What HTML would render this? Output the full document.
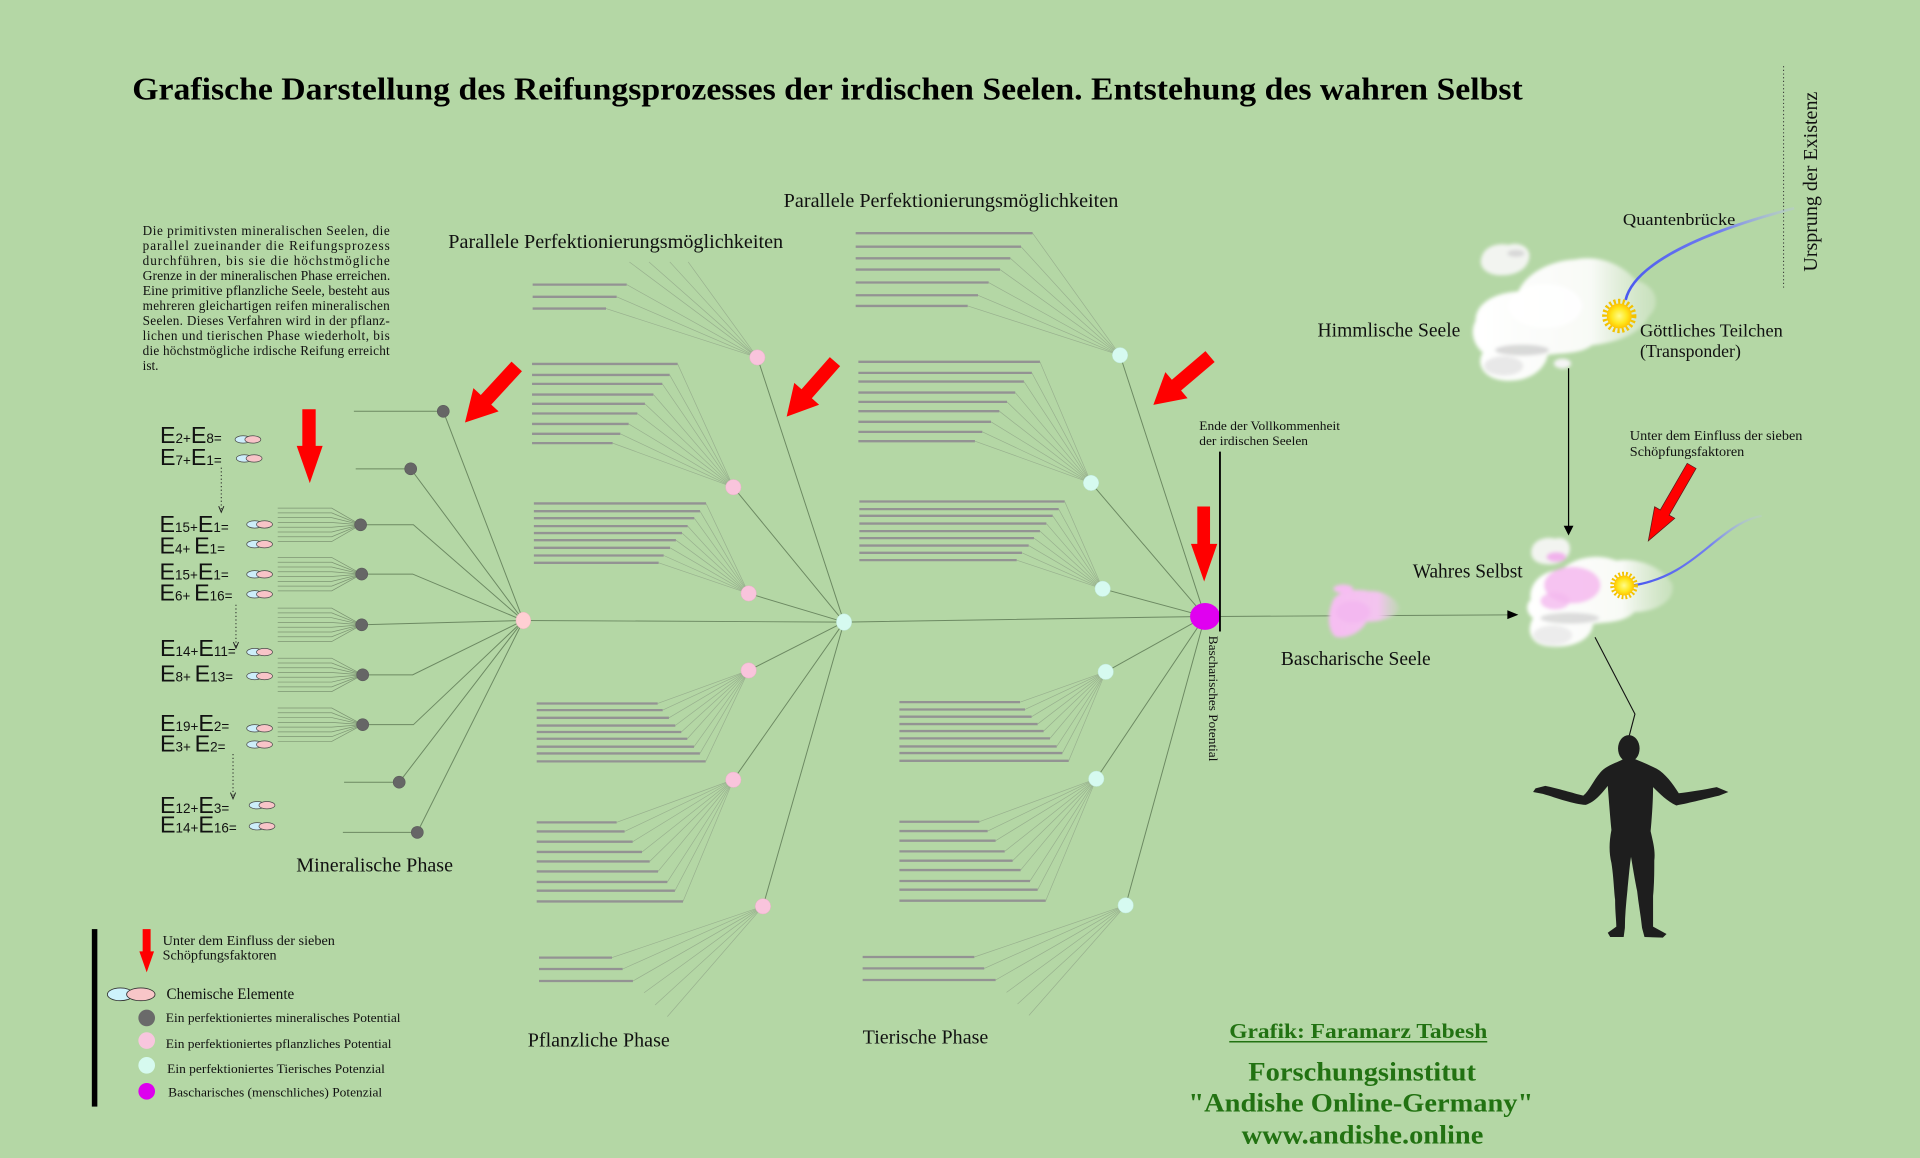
<!DOCTYPE html>
<html>
<head>
<meta charset="utf-8">
<style>
  html,body{margin:0;padding:0;background:#b4d7a5;}
  svg{display:block;}
  .serif{font-family:"Liberation Serif","DejaVu Serif",serif;}
  .sans{font-family:"Liberation Sans","DejaVu Sans",sans-serif;}
</style>
</head>
<body>
<svg width="1920" height="1158" viewBox="0 0 1568 946" preserveAspectRatio="none" xmlns="http://www.w3.org/2000/svg">
<defs>
  <filter id="blur1" x="-20%" y="-20%" width="140%" height="140%"><feGaussianBlur stdDeviation="1.6"/></filter>
  <radialGradient id="sunG" cx="50%" cy="50%" r="50%">
    <stop offset="0" stop-color="#fffb8a"/>
    <stop offset="0.6" stop-color="#ffe820"/>
    <stop offset="1" stop-color="#ffc400"/>
  </radialGradient>
  <linearGradient id="blue1" gradientUnits="userSpaceOnUse" x1="1328" y1="245" x2="1465" y2="170">
    <stop offset="0" stop-color="#4a58f0"/>
    <stop offset="0.6" stop-color="#6f7cf0"/>
    <stop offset="1" stop-color="#b9c2ee" stop-opacity="0.3"/>
  </linearGradient>
  <linearGradient id="blue2" gradientUnits="userSpaceOnUse" x1="1332" y1="478" x2="1439" y2="421">
    <stop offset="0" stop-color="#4a58f0"/>
    <stop offset="0.6" stop-color="#7380f0"/>
    <stop offset="1" stop-color="#c0c8ee" stop-opacity="0.2"/>
  </linearGradient>
  <linearGradient id="pinkfade" x1="0" y1="0" x2="1" y2="0">
    <stop offset="0" stop-color="#f6bdf2"/>
    <stop offset="0.7" stop-color="#f3c4ef"/>
    <stop offset="1" stop-color="#e8d0e6" stop-opacity="0.2"/>
  </linearGradient>
  <linearGradient id="cloudfade" x1="0" y1="0" x2="1" y2="0">
    <stop offset="0" stop-color="#ffffff"/>
    <stop offset="0.65" stop-color="#f8faf6"/>
    <stop offset="1" stop-color="#e4eedd" stop-opacity="0.4"/>
  </linearGradient>
</defs>

<rect x="0" y="0" width="1568" height="946" fill="#b4d7a5"/>

<!-- Title -->
<text class="serif" x="108" y="81.1" font-size="26" font-weight="bold" fill="#000" textLength="1135.6" lengthAdjust="spacingAndGlyphs">Grafische Darstellung des Reifungsprozesses der irdischen Seelen. Entstehung des wahren Selbst</text>

<!-- Description block -->
<g class="serif" font-size="10.8" fill="#111">
  <text x="116.5" y="192" textLength="201.8" lengthAdjust="spacing">Die primitivsten mineralischen Seelen, die</text>
  <text x="116.5" y="204.25" textLength="201.8" lengthAdjust="spacing">parallel zueinander die Reifungsprozess</text>
  <text x="116.5" y="216.5" textLength="201.8" lengthAdjust="spacing">durchführen, bis sie die höchstmögliche</text>
  <text x="116.5" y="228.75" textLength="202.2" lengthAdjust="spacingAndGlyphs">Grenze in der mineralischen Phase erreichen.</text>
  <text x="116.5" y="241" textLength="201.8" lengthAdjust="spacingAndGlyphs">Eine primitive pflanzliche Seele, besteht aus</text>
  <text x="116.5" y="253.25" textLength="201.8" lengthAdjust="spacing">mehreren gleichartigen reifen mineralischen</text>
  <text x="116.5" y="265.5" textLength="201.8" lengthAdjust="spacing">Seelen. Dieses Verfahren wird in der pflanz-</text>
  <text x="116.5" y="277.75" textLength="201.8" lengthAdjust="spacing">lichen und tierischen Phase wiederholt, bis</text>
  <text x="116.5" y="290" textLength="201.8" lengthAdjust="spacing">die höchstmögliche irdische Reifung erreicht</text>
  <text x="116.5" y="302.25">ist.</text>
</g>

<!-- Parallel labels -->
<text class="serif" x="366.1" y="202.8" font-size="16" fill="#111" textLength="273.5" lengthAdjust="spacingAndGlyphs">Parallele Perfektionierungsmöglichkeiten</text>
<text class="serif" x="640" y="169.3" font-size="16" fill="#111" textLength="273.3" lengthAdjust="spacingAndGlyphs">Parallele Perfektionierungsmöglichkeiten</text>

<!-- ============ MINERAL PHASE ============ -->
<g fill="none" stroke="#7d9573" stroke-width="0.6">
  <path d="M226.8 415.1H270.9L294.5 428.7M226.8 419H270.9L294.5 428.7M226.8 422.9H270.9L294.5 428.7M226.8 426.8H270.9L294.5 428.7M226.8 430.7H270.9L294.5 428.7M226.8 434.6H270.9L294.5 428.7M226.8 438.5H270.9L294.5 428.7M226.8 442.4H270.9L294.5 428.7"/>
  <path d="M226.8 455.4H270.9L295.4 469M226.8 459.3H270.9L295.4 469M226.8 463.2H270.9L295.4 469M226.8 467.1H270.9L295.4 469M226.8 471H270.9L295.4 469M226.8 474.9H270.9L295.4 469M226.8 478.8H270.9L295.4 469M226.8 482.7H270.9L295.4 469"/>
  <path d="M226.8 496.8H270.9L295.4 510.4M226.8 500.7H270.9L295.4 510.4M226.8 504.6H270.9L295.4 510.4M226.8 508.5H270.9L295.4 510.4M226.8 512.4H270.9L295.4 510.4M226.8 516.3H270.9L295.4 510.4M226.8 520.2H270.9L295.4 510.4M226.8 524.1H270.9L295.4 510.4"/>
  <path d="M226.8 537.7H270.9L296.2 551.3M226.8 541.6H270.9L296.2 551.3M226.8 545.5H270.9L296.2 551.3M226.8 549.4H270.9L296.2 551.3M226.8 553.3H270.9L296.2 551.3M226.8 557.2H270.9L296.2 551.3M226.8 561.1H270.9L296.2 551.3M226.8 565H270.9L296.2 551.3"/>
  <path d="M226.8 578.4H270.9L296.2 592M226.8 582.3H270.9L296.2 592M226.8 586.2H270.9L296.2 592M226.8 590.1H270.9L296.2 592M226.8 594H270.9L296.2 592M226.8 597.9H270.9L296.2 592M226.8 601.8H270.9L296.2 592M226.8 605.7H270.9L296.2 592"/>
</g>
<g fill="none" stroke="#6c8962" stroke-width="0.8">
  <path d="M289 336H362L427.4 506.9"/>
  <path d="M290.5 383H335.4L427.4 506.9"/>
  <path d="M294.5 428.7H337.6L427.4 506.9"/>
  <path d="M295.4 469H337L427.4 506.9"/>
  <path d="M295.4 510.4L427.4 506.9"/>
  <path d="M296.2 551.3H337L427.4 506.9"/>
  <path d="M296.2 592H337.6L427.4 506.9"/>
  <path d="M281 639H326L427.4 506.9"/>
  <path d="M280 680H340.8L427.4 506.9"/>
</g>

<!-- ============ PLANT PHASE ============ -->
<g fill="none" stroke="#939393" stroke-width="1.9">
  <path d="M435 232.5H511.8M435 242.5H503.6M435 252.1H494.9"/>
  <path d="M434.5 297.3H553.4M434.5 306.3H546.9M434.5 313.6H540.9M434.5 322.3H533.6M434.5 329.9H526.7M434.5 337.8H520.5M434.5 346.3H513.4M434.5 354.4H506.6M434.5 362H500.3"/>
  <path d="M436 411.3H576.6M436 417.6H571.7M436 423.3H567M436 429.8H561.6M436 435.5H557M436 441.3H552M436 447.5H547.2M436 453.8H542M436 459.8H537.9"/>
  <path d="M438.3 574.7H537.1M438.3 580.1H541.2M438.3 586.4H546.3M438.3 592.7H551.5M438.3 598H556.4M438.3 603.5H561.3M438.3 610H566.8M438.3 615.5H571.6M438.3 622H576.3"/>
  <path d="M438.3 671.8H503.6M438.3 679.2H510.1M438.3 687.6H516.7M438.3 696H524.3M438.3 703.7H530.6M438.3 711.9H537.4M438.3 720.5H545M438.3 727.6H551.2M438.3 736.4H557.8"/>
  <path d="M440.2 782.3H499.8M440.2 791.6H508.5M440.2 801.4H516.9"/>
</g>
<g fill="none" stroke="#98b08e" stroke-width="0.55">
  <path d="M511.8 232.5L618.5 292M503.6 242.5L618.5 292M494.9 252.1L618.5 292M514 214L618.5 292M530 214L618.5 292M547 214L618.5 292M562 214L618.5 292"/>
  <path d="M553.4 297.3L598.9 398M546.9 306.3L598.9 398M540.9 313.6L598.9 398M533.6 322.3L598.9 398M526.7 329.9L598.9 398M520.5 337.8L598.9 398M513.4 346.3L598.9 398M506.6 354.4L598.9 398M500.3 362L598.9 398"/>
  <path d="M576.6 411.3L611.4 484.8M571.7 417.6L611.4 484.8M567 423.3L611.4 484.8M561.6 429.8L611.4 484.8M557 435.5L611.4 484.8M552 441.3L611.4 484.8M547.2 447.5L611.4 484.8M542 453.8L611.4 484.8M537.9 459.8L611.4 484.8"/>
  <path d="M537.1 574.7L611.4 547.7M541.2 580.1L611.4 547.7M546.3 586.4L611.4 547.7M551.5 592.7L611.4 547.7M556.4 598L611.4 547.7M561.3 603.5L611.4 547.7M566.8 610L611.4 547.7M571.6 615.5L611.4 547.7M576.3 622L611.4 547.7"/>
  <path d="M503.6 671.8L598.9 637M510.1 679.2L598.9 637M516.7 687.6L598.9 637M524.3 696L598.9 637M530.6 703.7L598.9 637M537.4 711.9L598.9 637M545 720.5L598.9 637M551.2 727.6L598.9 637M557.8 736.4L598.9 637"/>
  <path d="M499.8 782.3L623.1 740.4M508.5 791.6L623.1 740.4M516.9 801.4L623.1 740.4M526 811L623.1 740.4M535 821L623.1 740.4M545 830.5L623.1 740.4"/>
</g>
<g fill="none" stroke="#6c8962" stroke-width="0.8">
  <path d="M618.5 292L689.3 508.2M598.9 398L689.3 508.2M611.4 484.8L689.3 508.2M611.4 547.7L689.3 508.2M598.9 637L689.3 508.2M623.1 740.4L689.3 508.2"/>
  <path d="M427.4 506.9L689.3 508.2L984.1 503.6"/>
</g>

<!-- ============ ANIMAL PHASE ============ -->
<g fill="none" stroke="#939393" stroke-width="1.9">
  <path d="M698.8 190.5H843.3M698.8 201.5H833.8M698.8 211H825.1M698.8 220.2H816.7M698.8 230.8H807.4M698.8 241.2H798.7M698.8 249.9H790.3"/>
  <path d="M701 295.6H849.3M701 304.6H842.7M701 311.7H836.2M701 320.7H829.1M701 328.3H822.4M701 335.9H816.1M701 344.6H809.3M701 352.8H802.2M701 360.4H796.2"/>
  <path d="M701.8 409.7H869.5M701.8 415.9H864.6M701.8 421.4H859.7M701.8 427.7H854.5M701.8 433.9H849.3M701.8 439.6H844.4M701.8 445.7H840.1M701.8 451.6H834.6M701.8 457.6H830.3"/>
  <path d="M734.5 573.6H833M734.5 579.6H837.1M734.5 585.5H842.5M734.5 591.5H847.4M734.5 597.2H852.3M734.5 603.2H857.5M734.5 609.8H863M734.5 615.2H867.6M734.5 621.5H872.8"/>
  <path d="M734.5 671.3H799.8M734.5 678.9H806.6M734.5 686.8H813.1M734.5 695.5H820.5M734.5 703.1H827M734.5 710.8H833.5M734.5 719.7H841.2M734.5 726.8H847.4M734.5 735.8H854"/>
  <path d="M704.5 781.8H795.7M704.5 791.1H803.8M704.5 800.6H813.1"/>
</g>
<g fill="none" stroke="#98b08e" stroke-width="0.55">
  <path d="M843.3 190.5L914.7 290.2M833.8 201.5L914.7 290.2M825.1 211L914.7 290.2M816.7 220.2L914.7 290.2M807.4 230.8L914.7 290.2M798.7 241.2L914.7 290.2M790.3 249.9L914.7 290.2"/>
  <path d="M849.3 295.6L891 394.5M842.7 304.6L891 394.5M836.2 311.7L891 394.5M829.1 320.7L891 394.5M822.4 328.3L891 394.5M816.1 335.9L891 394.5M809.3 344.6L891 394.5M802.2 352.8L891 394.5M796.2 360.4L891 394.5"/>
  <path d="M869.5 409.7L900.5 481M864.6 415.9L900.5 481M859.7 421.4L900.5 481M854.5 427.7L900.5 481M849.3 433.9L900.5 481M844.4 439.6L900.5 481M840.1 445.7L900.5 481M834.6 451.6L900.5 481M830.3 457.6L900.5 481"/>
  <path d="M833 573.6L903 548.8M837.1 579.6L903 548.8M842.5 585.5L903 548.8M847.4 591.5L903 548.8M852.3 597.2L903 548.8M857.5 603.2L903 548.8M863 609.8L903 548.8M867.6 615.2L903 548.8M872.8 621.5L903 548.8"/>
  <path d="M799.8 671.3L895.3 636.2M806.6 678.9L895.3 636.2M813.1 686.8L895.3 636.2M820.5 695.5L895.3 636.2M827 703.1L895.3 636.2M833.5 710.8L895.3 636.2M841.2 719.7L895.3 636.2M847.4 726.8L895.3 636.2M854 735.8L895.3 636.2"/>
  <path d="M795.7 781.8L919.3 739.6M803.8 791.1L919.3 739.6M813.1 800.6L919.3 739.6M822 810.7L919.3 739.6M831 820.2L919.3 739.6M840.3 829.5L919.3 739.6"/>
</g>
<g fill="none" stroke="#6c8962" stroke-width="0.8">
  <path d="M914.7 290.2L984.1 503.6M891 394.5L984.1 503.6M900.5 481L984.1 503.6M903 548.8L984.1 503.6M895.3 636.2L984.1 503.6M919.3 739.6L984.1 503.6"/>
  <path d="M996 503.6L1232 502.3"/>
</g>

<!-- Nodes -->
<g fill="#666" stroke="#5a5a5a" stroke-width="0.5">
  <circle cx="362" cy="336" r="4.9"/>
  <circle cx="335.4" cy="383" r="4.9"/>
  <circle cx="294.5" cy="428.7" r="4.9"/>
  <circle cx="295.4" cy="469" r="4.9"/>
  <circle cx="295.4" cy="510.4" r="4.9"/>
  <circle cx="296.2" cy="551.3" r="4.9"/>
  <circle cx="296.2" cy="592" r="4.9"/>
  <circle cx="326" cy="639" r="4.9"/>
  <circle cx="340.8" cy="680" r="4.9"/>
</g>
<ellipse cx="427.4" cy="506.9" rx="6" ry="6.8" fill="#ffcfd3" stroke="#f0b8c0" stroke-width="0.4"/>
<g fill="#f9c4dc" stroke="#e8b0c8" stroke-width="0.4">
  <circle cx="618.5" cy="292" r="6.3"/>
  <circle cx="598.9" cy="398" r="6.3"/>
  <circle cx="611.4" cy="484.8" r="6.3"/>
  <circle cx="611.4" cy="547.7" r="6.3"/>
  <circle cx="598.9" cy="637" r="6.3"/>
  <circle cx="623.1" cy="740.4" r="6.3"/>
</g>
<g fill="#d6faf0" stroke="#c0e8dc" stroke-width="0.4">
  <ellipse cx="689.3" cy="508.2" rx="6.2" ry="6.8"/>
  <circle cx="914.7" cy="290.2" r="6.3"/>
  <circle cx="891" cy="394.5" r="6.3"/>
  <circle cx="900.5" cy="481" r="6.3"/>
  <circle cx="903" cy="548.8" r="6.3"/>
  <circle cx="895.3" cy="636.2" r="6.3"/>
  <circle cx="919.3" cy="739.6" r="6.3"/>
</g>
<ellipse cx="984.1" cy="503.6" rx="12.2" ry="11" fill="#e000f0"/>

<!-- End line -->
<line x1="996.3" y1="368.9" x2="996.3" y2="515.9" stroke="#000" stroke-width="1.5"/>
<g class="serif" font-size="10.4" fill="#111">
  <text x="979.4" y="351.2" textLength="114.9" lengthAdjust="spacingAndGlyphs">Ende der Vollkommenheit</text>
  <text x="979.4" y="363.4" textLength="88.8" lengthAdjust="spacingAndGlyphs">der irdischen Seelen</text>
</g>
<text class="serif" transform="translate(987.2,519.4) rotate(90)" font-size="10.4" fill="#111" textLength="102.6" lengthAdjust="spacingAndGlyphs">Bascharisches Potential</text>

<!-- E labels -->
<g class="sans" fill="#111">
  <text x="130.7" y="362"><tspan font-size="19">E</tspan><tspan font-size="11">2+</tspan><tspan font-size="19">E</tspan><tspan font-size="11">8=</tspan></text>
  <text x="130.7" y="380"><tspan font-size="19">E</tspan><tspan font-size="11">7+</tspan><tspan font-size="19">E</tspan><tspan font-size="11">1=</tspan></text>
  <text x="130.3" y="434.5"><tspan font-size="19">E</tspan><tspan font-size="11">15+</tspan><tspan font-size="19">E</tspan><tspan font-size="11">1=</tspan></text>
  <text x="130.3" y="452"><tspan font-size="19">E</tspan><tspan font-size="11">4+ </tspan><tspan font-size="19">E</tspan><tspan font-size="11">1=</tspan></text>
  <text x="130.3" y="473.6"><tspan font-size="19">E</tspan><tspan font-size="11">15+</tspan><tspan font-size="19">E</tspan><tspan font-size="11">1=</tspan></text>
  <text x="130.3" y="490.5"><tspan font-size="19">E</tspan><tspan font-size="11">6+ </tspan><tspan font-size="19">E</tspan><tspan font-size="11">16=</tspan></text>
  <text x="130.7" y="536"><tspan font-size="19">E</tspan><tspan font-size="11">14+</tspan><tspan font-size="19">E</tspan><tspan font-size="11">11=</tspan></text>
  <text x="130.7" y="556.7"><tspan font-size="19">E</tspan><tspan font-size="11">8+ </tspan><tspan font-size="19">E</tspan><tspan font-size="11">13=</tspan></text>
  <text x="130.7" y="597"><tspan font-size="19">E</tspan><tspan font-size="11">19+</tspan><tspan font-size="19">E</tspan><tspan font-size="11">2=</tspan></text>
  <text x="130.7" y="613.8"><tspan font-size="19">E</tspan><tspan font-size="11">3+ </tspan><tspan font-size="19">E</tspan><tspan font-size="11">2=</tspan></text>
  <text x="130.7" y="664"><tspan font-size="19">E</tspan><tspan font-size="11">12+</tspan><tspan font-size="19">E</tspan><tspan font-size="11">3=</tspan></text>
  <text x="130.7" y="680"><tspan font-size="19">E</tspan><tspan font-size="11">14+</tspan><tspan font-size="19">E</tspan><tspan font-size="11">16=</tspan></text>
</g>

<!-- element pills -->
<g stroke="#4a4a4a" stroke-width="0.6">
  <ellipse cx="198.5" cy="359" rx="6.5" ry="3" fill="#cdeefa"/><ellipse cx="206.5" cy="359" rx="6.5" ry="3" fill="#f8c4c8"/>
  <ellipse cx="199.5" cy="374.5" rx="6.5" ry="3" fill="#cdeefa"/><ellipse cx="207.5" cy="374.5" rx="6.5" ry="3" fill="#f8c4c8"/>
  <ellipse cx="208" cy="428.4" rx="6.5" ry="3" fill="#cdeefa"/><ellipse cx="216" cy="428.4" rx="6.5" ry="3" fill="#f8c4c8"/>
  <ellipse cx="208" cy="444.6" rx="6.5" ry="3" fill="#cdeefa"/><ellipse cx="216" cy="444.6" rx="6.5" ry="3" fill="#f8c4c8"/>
  <ellipse cx="208" cy="469.2" rx="6.5" ry="3" fill="#cdeefa"/><ellipse cx="216" cy="469.2" rx="6.5" ry="3" fill="#f8c4c8"/>
  <ellipse cx="208" cy="485.5" rx="6.5" ry="3" fill="#cdeefa"/><ellipse cx="216" cy="485.5" rx="6.5" ry="3" fill="#f8c4c8"/>
  <ellipse cx="208" cy="532.7" rx="6.5" ry="3" fill="#cdeefa"/><ellipse cx="216" cy="532.7" rx="6.5" ry="3" fill="#f8c4c8"/>
  <ellipse cx="208" cy="552.3" rx="6.5" ry="3" fill="#cdeefa"/><ellipse cx="216" cy="552.3" rx="6.5" ry="3" fill="#f8c4c8"/>
  <ellipse cx="208" cy="595" rx="6.5" ry="3" fill="#cdeefa"/><ellipse cx="216" cy="595" rx="6.5" ry="3" fill="#f8c4c8"/>
  <ellipse cx="208" cy="608.2" rx="6.5" ry="3" fill="#cdeefa"/><ellipse cx="216" cy="608.2" rx="6.5" ry="3" fill="#f8c4c8"/>
  <ellipse cx="210" cy="657.8" rx="6.5" ry="3" fill="#cdeefa"/><ellipse cx="218" cy="657.8" rx="6.5" ry="3" fill="#f8c4c8"/>
  <ellipse cx="210" cy="675" rx="6.5" ry="3" fill="#cdeefa"/><ellipse cx="218" cy="675" rx="6.5" ry="3" fill="#f8c4c8"/>
</g>

<!-- dotted arrows -->
<g stroke="#222" stroke-width="0.8" fill="none">
  <path d="M180.7 382V417" stroke-dasharray="1 2"/>
  <path d="M178.6 413.5L180.7 418.5L182.8 413.5"/>
  <path d="M192.7 494V528" stroke-dasharray="1 2"/>
  <path d="M190.6 524.5L192.7 529.5L194.8 524.5"/>
  <path d="M190.3 616V651" stroke-dasharray="1 2"/>
  <path d="M188.2 647.5L190.3 652.5L192.4 647.5"/>
</g>

<!-- Phase labels -->
<g class="serif" font-size="16" fill="#111">
  <text x="242" y="712" textLength="128" lengthAdjust="spacingAndGlyphs">Mineralische Phase</text>
  <text x="431" y="855" textLength="116" lengthAdjust="spacingAndGlyphs">Pflanzliche Phase</text>
  <text x="704.5" y="852.6" textLength="102.6" lengthAdjust="spacingAndGlyphs">Tierische Phase</text>
</g>

<!-- Red arrows -->
<g fill="#ff0000">
  <polygon points="246.9,334.3 257.8,334.3 257.8,364.2 263.5,364.2 253,394.7 242.3,364.2 246.9,364.2"/>
  <polygon points="977.8,413.8 988.2,413.8 988.2,444.3 994.1,444.3 983.4,475 972.6,444.3 977.8,444.3"/>
  <polygon points="116.5,759 123,759 123,777.2 125.8,777.2 119.8,794.4 113.8,777.2 116.5,777.2"/>
  <polygon transform="translate(422,299.4) rotate(132.7)" points="0,-5.8 37,-5.8 37,-14 62.3,0 37,14 37,5.8 0,5.8"/>
  <polygon transform="translate(681.9,295.4) rotate(131.3)" points="0,-5.6 35,-5.6 35,-13.5 59.8,0 35,13.5 35,5.6 0,5.6"/>
  <polygon transform="translate(988.2,291.3) rotate(139.6)" points="0,-5.8 36,-5.8 36,-14 60.8,0 36,14 36,5.8 0,5.8"/>
  <polygon transform="translate(1381.5,380.6) rotate(120)" points="0,-4.2 44,-4.2 44,-9.5 70.8,0 44,9.5 44,4.2 0,4.2" stroke="#5a1a1a" stroke-width="0.6"/>
</g>

<!-- Legend -->
<rect x="75" y="759" width="4.5" height="145" fill="#000"/>
<g class="serif" fill="#111">
  <text x="132.8" y="771.8" font-size="11" textLength="140.7" lengthAdjust="spacingAndGlyphs">Unter dem Einfluss der sieben</text>
  <text x="132.8" y="784" font-size="11" textLength="93.1" lengthAdjust="spacingAndGlyphs">Schöpfungsfaktoren</text>
  <text x="136" y="816" font-size="12.5" textLength="104.3" lengthAdjust="spacingAndGlyphs">Chemische Elemente</text>
  <text x="135.4" y="834.9" font-size="10.5" textLength="191.7" lengthAdjust="spacingAndGlyphs">Ein perfektioniertes mineralisches Potential</text>
  <text x="135.4" y="856.1" font-size="10.5" textLength="184.3" lengthAdjust="spacingAndGlyphs">Ein perfektioniertes pflanzliches Potential</text>
  <text x="136.5" y="876.5" font-size="10.5" textLength="177.8" lengthAdjust="spacingAndGlyphs">Ein perfektioniertes Tierisches Potenzial</text>
  <text x="137.3" y="895.6" font-size="10.5" textLength="174.8" lengthAdjust="spacingAndGlyphs">Bascharisches (menschliches) Potenzial</text>
</g>
<ellipse cx="98.3" cy="812.3" rx="10.6" ry="5.2" fill="#cdf2fb" stroke="#333" stroke-width="0.7"/>
<ellipse cx="115" cy="812.3" rx="11.6" ry="5.2" fill="#f8c6c8" stroke="#333" stroke-width="0.7"/>
<circle cx="119.8" cy="831.6" r="6.8" fill="#6a6a6a"/>
<circle cx="119.8" cy="850.1" r="6.8" fill="#f8c6de"/>
<circle cx="119.8" cy="870.3" r="6.8" fill="#d6faef"/>
<circle cx="119.8" cy="891.5" r="6.8" fill="#dd00ee"/>

<!-- Ursprung der Existenz -->
<line x1="1456.6" y1="54" x2="1456.6" y2="235.5" stroke="#333" stroke-width="0.8" stroke-dasharray="1 2"/>
<text class="serif" transform="translate(1483.7,221.9) rotate(-90)" font-size="16" fill="#111" textLength="147" lengthAdjust="spacingAndGlyphs">Ursprung der Existenz</text>

<!-- Himmlische Seele cloud -->
<g filter="url(#blur1)">
  <path d="M1205 262C1205 247 1222 239 1240 238C1246 224 1265 213 1286 212C1306 208 1325 216 1336 229C1352 233 1358 248 1346 259C1340 273 1320 280 1300 282C1290 290 1272 288 1264 290C1262 301 1250 312 1230 311C1212 310 1205 298 1211 288C1204 282 1200 272 1205 262Z" fill="url(#cloudfade)"/>
  <ellipse cx="1243" cy="286" rx="22" ry="4.5" fill="#c9c9c9" opacity="0.7"/>
  <ellipse cx="1228" cy="299" rx="16" ry="8" fill="#e8e8e8"/>
  <ellipse cx="1262" cy="250" rx="30" ry="18" fill="#ffffff" opacity="0.8"/>
  <path d="M1210 210C1212 202 1222 198 1232 200C1242 197 1250 203 1249 210C1248 220 1238 225 1226 225C1214 225 1207 218 1210 210Z" fill="#f2f4f0"/>
  <ellipse cx="1238" cy="207" rx="7" ry="3" fill="#d8d8d8"/>
  <ellipse cx="1276" cy="297" rx="7" ry="4" fill="#f4f4f4"/>
</g>

<!-- Quantum bridge -->
<path d="M1327.6 245C1333 222 1370 195 1465.3 170.1" fill="none" stroke="url(#blue1)" stroke-width="2.2"/>

<!-- Sun 1 -->
<circle cx="1322.4" cy="258.1" r="12" fill="none" stroke="#f2c200" stroke-width="4" stroke-dasharray="1.8 1.9"/>
<circle cx="1322.4" cy="258.1" r="10.2" fill="url(#sunG)"/>

<g class="serif" fill="#111">
  <text x="1325.4" y="183.8" font-size="13.5" textLength="91.8" lengthAdjust="spacingAndGlyphs">Quantenbrücke</text>
  <text x="1076" y="274.9" font-size="16" textLength="116.6" lengthAdjust="spacingAndGlyphs">Himmlische Seele</text>
  <text x="1339.3" y="274.9" font-size="14.5" textLength="116.7" lengthAdjust="spacingAndGlyphs">Göttliches Teilchen</text>
  <text x="1339.3" y="291.8" font-size="14.5">(Transponder)</text>
</g>

<!-- vertical arrow to Wahres Selbst -->
<line x1="1281" y1="300.8" x2="1281" y2="431" stroke="#000" stroke-width="1"/>
<polygon points="1277,429.5 1285,429.5 1281,437.5" fill="#000"/>

<!-- Unter dem Einfluss (right) -->
<g class="serif" fill="#111" font-size="11">
  <text x="1331" y="359.3" textLength="141" lengthAdjust="spacingAndGlyphs">Unter dem Einfluss der sieben</text>
  <text x="1331" y="372.7" textLength="93.5" lengthAdjust="spacingAndGlyphs">Schöpfungsfaktoren</text>
</g>

<!-- Bascharische Seele cloud -->
<g filter="url(#blur1)">
  <path d="M1088 492C1090 484 1105 480 1118 483C1130 482 1142 490 1143 497C1141 505 1126 508 1116 508C1112 516 1100 523 1090 520C1083 512 1085 500 1088 492Z" fill="url(#pinkfade)"/>
  <ellipse cx="1097" cy="481" rx="8" ry="3.5" fill="#f6bdf2"/>
  <ellipse cx="1105" cy="500" rx="14" ry="9" fill="#f3b8f0"/>
</g>
<text class="serif" x="1046.1" y="543.1" font-size="16" fill="#111" textLength="122.3" lengthAdjust="spacingAndGlyphs">Bascharische Seele</text>

<!-- arrow head into Wahres Selbst -->
<polygon points="1231,498.5 1240,502.2 1231,505.8" fill="#000"/>

<!-- Wahres Selbst cloud -->
<g filter="url(#blur1)">
  <path d="M1250 490C1248 475 1262 465 1275 466C1285 455 1305 452 1320 458C1340 455 1360 465 1366 478C1368 492 1350 500 1335 500C1325 510 1307 508 1301 510C1300 522 1285 530 1265 528C1250 527 1246 515 1252 505C1246 500 1246 494 1250 490Z" fill="url(#cloudfade)"/>
  <ellipse cx="1284" cy="478" rx="23" ry="15" fill="#f4b9ef" opacity="0.85"/>
  <ellipse cx="1270" cy="491" rx="12" ry="7" fill="#f4b9ef" opacity="0.8"/>
  <path d="M1251 448C1253 441 1262 438 1270 440C1278 438 1283 443 1282 450C1280 458 1272 462 1262 461C1253 460 1249 455 1251 448Z" fill="#f2f4f0"/>
  <ellipse cx="1271" cy="455" rx="8" ry="4" fill="#f1b2ec"/>
  <ellipse cx="1282" cy="505" rx="24" ry="4.5" fill="#cfcfcf" opacity="0.7"/>
  <ellipse cx="1268" cy="519" rx="16" ry="8" fill="#ececec"/>
</g>
<text class="serif" x="1153.7" y="471.6" font-size="16" fill="#111" textLength="89.8" lengthAdjust="spacingAndGlyphs">Wahres Selbst</text>

<!-- blue curve 2 -->
<path d="M1332 478.5C1365 474 1385 455 1400 443S1425 424 1438.7 421.4" fill="none" stroke="url(#blue2)" stroke-width="1.8"/>

<!-- Sun 2 -->
<circle cx="1326.3" cy="478.3" r="9.6" fill="none" stroke="#f2c200" stroke-width="3.4" stroke-dasharray="1.5 1.6"/>
<circle cx="1326.3" cy="478.3" r="8.2" fill="url(#sunG)"/>

<!-- cord to figure -->
<path d="M1302.6 520.6L1335.2 583.3L1330.6 600.8" fill="none" stroke="#111" stroke-width="0.9"/>

<!-- Human figure -->
<g fill="#1e1e1e">
  <ellipse cx="1330.2" cy="611.5" rx="8.8" ry="11"/>
  <path d="M1326 620C1318 624 1311 626 1307 631C1301 638 1298 646 1293 650C1285 648 1272 644 1262 642L1254 644L1252 647L1260 648.5C1272 652 1285 657 1295 657.5C1303 655 1309 647 1313 642C1314 655 1315 668 1316 678C1314 688 1314 697 1316 705C1318 718 1318 728 1319 735C1319 745 1320 752 1320 757L1313 762L1315 765.5L1326 765.5L1327 758C1327 748 1328 738 1329 728C1330 718 1331 706 1332 700C1333 706 1335 718 1337 728C1338 738 1340 748 1341 758L1343 765.5L1358 766L1361 763L1350 757C1350 748 1350 740 1350 732C1351 722 1351 712 1351 703C1352 695 1350 688 1348 679C1349 668 1350 655 1350 643C1355 648 1362 655 1369 658C1380 656 1395 652 1404 650L1411.5 647L1402 643C1392 645 1380 647 1371 648C1366 640 1360 632 1353 628C1347 625 1340 622 1335 620Z"/>
</g>

<!-- Footer -->
<g class="serif" font-weight="bold" fill="#227212">
  <text x="1003.9" y="848" font-size="17.5" textLength="210.7" lengthAdjust="spacingAndGlyphs">Grafik: Faramarz Tabesh</text>
  <text x="1019.4" y="882.8" font-size="21.5" textLength="186" lengthAdjust="spacingAndGlyphs">Forschungsinstitut</text>
  <text x="970.5" y="907.9" font-size="21.5" textLength="281.7" lengthAdjust="spacingAndGlyphs">"Andishe Online-Germany"</text>
  <text x="1014" y="934.3" font-size="21.5" textLength="197.4" lengthAdjust="spacingAndGlyphs">www.andishe.online</text>
</g>
<line x1="1003.9" y1="851" x2="1214.6" y2="851" stroke="#227212" stroke-width="1.2"/>

</svg>
</body>
</html>
